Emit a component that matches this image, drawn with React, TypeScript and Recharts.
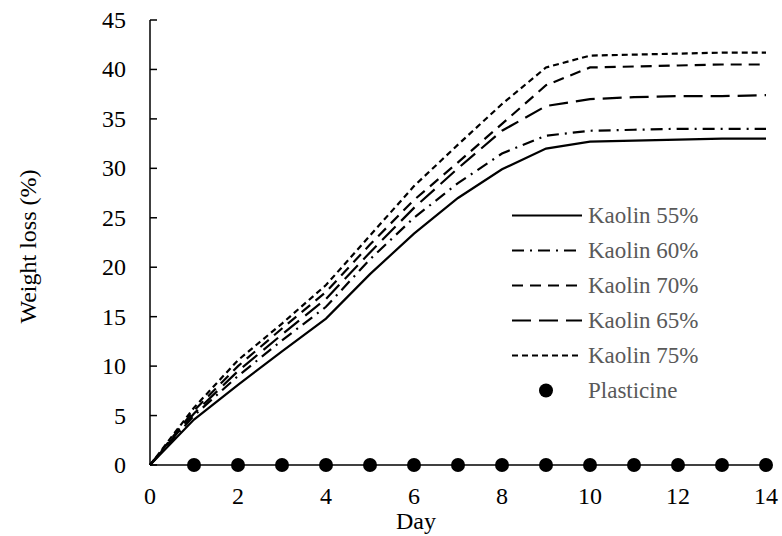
import React from "react";
import { LineChart, Line, XAxis, YAxis } from "recharts";

const days = [0, 1, 2, 3, 4, 5, 6, 7, 8, 9, 10, 11, 12, 13, 14];
const kaolin55 = [0, 4.6, 8.1, 11.5, 14.8, 19.3, 23.4, 27.0, 29.9, 32.0, 32.7, 32.8, 32.9, 33.0, 33.0];
const kaolin60 = [0, 5.0, 9.0, 12.6, 16.0, 20.8, 25.0, 28.5, 31.5, 33.3, 33.8, 33.9, 34.0, 34.0, 34.0];
const kaolin65 = [0, 5.2, 9.5, 13.2, 16.8, 21.5, 26.0, 30.0, 33.8, 36.3, 37.0, 37.2, 37.3, 37.3, 37.4];
const kaolin70 = [0, 5.5, 10.0, 13.8, 17.5, 22.3, 26.8, 30.6, 34.5, 38.4, 40.2, 40.3, 40.4, 40.5, 40.5];
const kaolin75 = [0, 5.8, 10.6, 14.3, 18.2, 23.2, 28.2, 32.4, 36.5, 40.2, 41.4, 41.5, 41.6, 41.7, 41.7];
const plasticine = [null, 0, 0, 0, 0, 0, 0, 0, 0, 0, 0, 0, 0, 0, 0];

const xTicks = [0, 2, 4, 6, 8, 10, 12, 14];
const yTicks = [0, 5, 10, 15, 20, 25, 30, 35, 40, 45];

const series = [
  { key: "k55", name: "Kaolin 55%", values: kaolin55, dash: undefined },
  { key: "k60", name: "Kaolin 60%", values: kaolin60, dash: "12 6 2 6" },
  { key: "k70", name: "Kaolin 70%", values: kaolin70, dash: "11 7" },
  { key: "k65", name: "Kaolin 65%", values: kaolin65, dash: "19 8" },
  { key: "k75", name: "Kaolin 75%", values: kaolin75, dash: "6 4" },
];

const data = days.map((d, i) => {
  const row: any = { day: d, plast: plasticine[i] };
  series.forEach((s) => (row[s.key] = s.values[i]));
  return row;
});

const FONT = "Liberation Serif, Times New Roman, serif";

const YTick = (props: any) => {
  const { x, y, payload } = props;
  return (
    <g>
      <line x1={x + 24} x2={x + 31} y1={y} y2={y} stroke="#000" strokeWidth={1.5} />
      <text x={x} y={y} textAnchor="end" dominantBaseline="central" style={{ fontFamily: FONT, fontSize: 24 }} fill="#000">
        {payload.value}
      </text>
    </g>
  );
};

const YLabel = (props: any) => {
  const { viewBox } = props;
  const cx = viewBox.x + 28;
  const cy = viewBox.y + viewBox.height / 2 + 4;
  return (
    <text x={cx} y={cy} transform={`rotate(-90, ${cx}, ${cy})`} textAnchor="middle" dominantBaseline="central" style={{ fontFamily: FONT, fontSize: 24 }} fill="#000">
      Weight loss (%)
    </text>
  );
};

const XLabel = (props: any) => {
  const { viewBox } = props;
  return (
    <text x={viewBox.x + viewBox.width / 2 - 42} y={viewBox.y + 64} textAnchor="middle" style={{ fontFamily: FONT, fontSize: 24 }} fill="#000">
      Day
    </text>
  );
};

const LegendBox = () => (
  <div style={{ position: "absolute", left: 512, top: 198, fontFamily: FONT, fontSize: 23, color: "#595959" }}>
    {series.map((s) => (
      <div key={s.key} style={{ display: "flex", alignItems: "center", height: 35 }}>
        <svg width={76} height={35}>
          <line x1={0} x2={70} y1={17.5} y2={17.5} stroke="#000" strokeWidth={2.2} strokeDasharray={s.dash} />
        </svg>
        <span style={{ lineHeight: "35px", whiteSpace: "nowrap" }}>{s.name}</span>
      </div>
    ))}
    <div style={{ display: "flex", alignItems: "center", height: 35 }}>
      <svg width={76} height={35}>
        <circle cx={34} cy={17.5} r={7} fill="#000" />
      </svg>
      <span style={{ lineHeight: "35px", whiteSpace: "nowrap" }}>Plasticine</span>
    </div>
  </div>
);

export default function App() {
  return (
    <div style={{ position: "absolute", left: 0, top: 0, width: 782, height: 536, background: "#fff" }}>
      <LineChart width={782} height={536} data={data} margin={{ top: 20, right: 16, left: 0, bottom: 0 }}>
        <XAxis
          dataKey="day"
          type="number"
          domain={[0, 14]}
          ticks={xTicks}
          tickLine={false}
          tickSize={0}
          tickMargin={22}
          height={71}
          axisLine={{ stroke: "#000", strokeWidth: 1.5 }}
          tick={{ fontFamily: FONT, fontSize: 24, fill: "#000" }}
          label={<XLabel />}
        />
        <YAxis
          type="number"
          domain={[0, 45]}
          ticks={yTicks}
          width={150}
          tickLine={false}
          tickSize={0}
          tickMargin={24}
          axisLine={{ stroke: "#000", strokeWidth: 1.5 }}
          tick={<YTick />}
          label={<YLabel />}
        />
        {series.map((s) => (
          <Line
            key={s.key}
            dataKey={s.key}
            name={s.name}
            type="linear"
            stroke="#000"
            strokeWidth={2.2}
            strokeDasharray={s.dash}
            dot={false}
            activeDot={false}
            isAnimationActive={false}
          />
        ))}
        <Line
          dataKey="plast"
          name="Plasticine"
          stroke="none"
          dot={{ r: 7, fill: "#000", stroke: "none" }}
          activeDot={false}
          isAnimationActive={false}
        />
      </LineChart>
      <LegendBox />
    </div>
  );
}
